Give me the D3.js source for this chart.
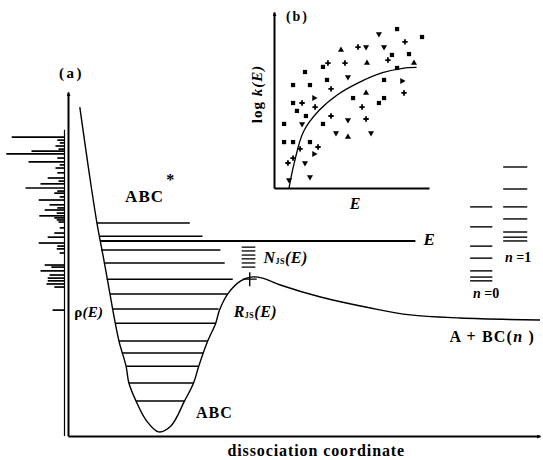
<!DOCTYPE html>
<html>
<head>
<meta charset="utf-8">
<script src="https://cdn.jsdelivr.net/npm/d3@7"></script>
<style>
	body { margin: 0; background: #fff; }
</style>
</head>
<body>
<svg id="chart" width="543" height="460"></svg>
<script>
'use strict';

var FONT = "'Liberation Serif', 'Times New Roman', Times, 'DejaVu Serif', serif";

//Potential energy curve, [dissociation coordinate, energy]
var potential = [
	[0.25,9.56],[0.44,7.73],[0.61,6.22],[0.78,4.97],[0.95,3.66],[1.08,2.76],[1.23,2.03],
	[1.29,1.54],[1.44,1.02],[1.65,0.47],[1.92,0.12],[2.18,0.29],[2.47,1.02],[2.66,1.54],
	[2.77,2.03],[2.96,2.76],[3.13,3.28],[3.21,3.66],[3.40,4.16],[3.66,4.51],[3.87,4.62],
	[4.12,4.59],[4.50,4.39],[5.35,4.04],[6.41,3.72],[7.25,3.52],[8.31,3.43],[10.0,3.37]
];

//Vibrational levels of ABC, [energy, left end, right end]
var levels = [
	[6.19,0.61,2.58],[5.81,0.68,2.85],[5.41,0.70,3.23],[5.03,0.76,3.32],[4.56,0.82,3.49],
	[4.13,0.89,3.38],[3.69,0.95,3.19],[3.28,1.00,3.13],[2.76,1.08,2.96],[2.41,1.14,2.87],
	[2.03,1.23,2.77],[1.54,1.29,2.66],[1.02,1.44,2.47]
];

//Total energy E line, [energy, left end, right end]
var energyLine = [5.67, 0.68, 7.36];

//Transition state levels N_JS(E)
var tsLevels = [5.49, 5.38, 5.26, 5.15, 5.03, 4.91];
var tsSpan = [3.68, 3.97];
var tsPoint = [3.85, 4.56];

//Product levels for n=0 and n=1
var n0Levels = [6.66, 6.08, 5.52, 5.17, 4.80, 4.62, 4.51];
var n0Span = [8.52, 8.99];
var n1Levels = [7.82, 7.18, 6.66, 6.31, 5.93, 5.78, 5.67];
var n1Span = [9.22, 9.73];

//Density of states spectrum rho(E), [energy, intensity]
var spectrum = [
	[8.69,0.88],[8.60,0.12],[8.52,0.08],[8.43,0.15],[8.34,0.10],[8.28,0.55],[8.20,0.97],
	[8.08,0.12],[7.97,0.60],[7.88,0.08],[7.79,0.15],[7.65,0.12],[7.50,0.28],[7.41,0.10],
	[7.33,0.40],[7.21,0.65],[7.12,0.12],[7.06,0.17],[6.95,0.08],[6.86,0.43],[6.72,0.25],
	[6.63,0.12],[6.57,0.33],[6.48,0.13],[6.40,0.42],[6.34,0.17],[6.28,0.13],[6.22,0.10],
	[6.05,0.08],[5.90,0.17],[5.78,0.28],[5.61,0.43],[5.52,0.12],[5.44,0.13],[5.32,0.08],
	[4.97,0.33],[4.91,0.22],[4.80,0.40],[4.68,0.25],[4.59,0.28],[4.51,0.28],[4.42,0.30],
	[4.33,0.17],[3.66,0.20]
];

//Inset (b): log k(E) scatter, [E, log k]
var insetSquares = [
	[7.94,9.03],[9.55,8.58],[7.61,7.56],[8.71,7.61],[3.16,6.88],[7.94,6.82],[2.00,6.59],
	[3.42,6.14],[7.10,6.14],[1.23,5.85],[2.32,5.85],[5.10,5.11],[7.10,5.11],[6.77,4.83],
	[1.23,4.83],[1.48,4.38],[2.06,4.09],[0.65,3.64],[3.16,3.64],[0.65,2.61],[1.23,2.61],
	[2.32,2.61]
];
var insetDown = [
	[6.77,8.75],[7.10,8.01],[5.94,8.01],[4.77,6.31],[4.77,3.86],[1.81,3.64],[4.00,3.13],
	[6.26,3.13],[2.00,1.42],[2.32,0.63],[0.97,0.45]
];
var insetUp = [[4.32,7.84],[6.00,7.10],[9.03,7.10],[5.94,5.40],[4.77,2.90]];
var insetCross = [
	[8.45,8.30],[5.42,8.01],[7.35,7.27],[3.48,7.10],[4.58,7.10],[3.68,5.63],[8.39,5.40],
	[1.81,4.83],[2.65,4.60],[5.68,4.60],[3.68,4.09],[5.94,3.92],[1.68,2.22],[2.84,2.33],
	[1.23,1.70],[0.90,1.42]
];
var insetRight = [[8.26,6.08],[2.58,5.11],[2.58,1.93]];
var insetFit = [
	[0.97,0.0],[1.30,1.40],[1.90,3.20],[2.90,4.40],[4.10,5.30],[5.50,6.00],[7.00,6.55],
	[8.30,6.80],[9.20,6.85]
];

var svg = d3.select('#chart');

//Scales
var x = d3.scaleLinear().domain([0,10]).range([68,540]);
var y = d3.scaleLinear().domain([0,10]).range([436,92]);
var sLen = d3.scaleLinear().domain([0,1]).range([0,60]);
var ix = d3.scaleLinear().domain([0,10]).range([274,429]);
var iy = d3.scaleLinear().domain([0,10]).range([188,12]);

//Arrow head marker
svg.append('defs').append('marker')
	.attr('id','arrow')
	.attr('viewBox','0 -4 8 8')
	.attr('refX',7).attr('refY',0)
	.attr('markerWidth',4).attr('markerHeight',4)
	.attr('markerUnits','userSpaceOnUse')
	.attr('orient','auto')
	.append('path').attr('d','M0,-4L8,0L0,4Z').attr('fill','#000');

function styleAxis(g) {
	g.select('.domain').attr('stroke','#000').attr('stroke-width',2)
		.attr('marker-end','url(#arrow)');
}

/***************************************
 * MAIN PANEL (a)
 ***************************************/

svg.append('g').attr('transform','translate(0,'+y(0)+')')
	.call(d3.axisBottom(x).tickValues([]).tickSizeOuter(0))
	.call(styleAxis);
svg.append('g').attr('transform','translate('+x(0)+',0)')
	.call(d3.axisLeft(y).tickValues([]).tickSizeOuter(0))
	.call(styleAxis);

//Spectrum baseline and lines
var specBase = x(0) - 3.5;
svg.append('line')
	.attr('x1',specBase).attr('x2',specBase)
	.attr('y1',y(8.9)).attr('y2',y(0))
	.attr('stroke','#000').attr('stroke-width',1.2);
svg.append('g').selectAll('line')
	.data(spectrum)
	.enter().append('line')
		.attr('x1',function(d){return specBase - sLen(d[1]);})
		.attr('x2',specBase)
		.attr('y1',function(d){return y(d[0]);})
		.attr('y2',function(d){return y(d[0]);})
		.attr('stroke','#000').attr('stroke-width',1.7);

//Potential curve
var line = d3.line()
	.x(function(d){return x(d[0]);})
	.y(function(d){return y(d[1]);})
	.curve(d3.curveCatmullRom.alpha(0.5));
svg.append('path')
	.datum(potential)
	.attr('d',line)
	.attr('fill','none').attr('stroke','#000').attr('stroke-width',1.4);

//Vibrational levels
svg.append('g').selectAll('line')
	.data(levels)
	.enter().append('line')
		.attr('x1',function(d){return x(d[1]);})
		.attr('x2',function(d){return x(d[2]);})
		.attr('y1',function(d){return y(d[0]);})
		.attr('y2',function(d){return y(d[0]);})
		.attr('stroke','#000').attr('stroke-width',1.5);

//Energy line
svg.append('line')
	.attr('x1',x(energyLine[1])).attr('x2',x(energyLine[2]))
	.attr('y1',y(energyLine[0])).attr('y2',y(energyLine[0]))
	.attr('stroke','#000').attr('stroke-width',2);

//Stacks of short levels
function stack(vals, span, w) {
	svg.append('g').selectAll('line')
		.data(vals)
		.enter().append('line')
			.attr('x1',x(span[0])).attr('x2',x(span[1]))
			.attr('y1',function(d){return y(d);})
			.attr('y2',function(d){return y(d);})
			.attr('stroke','#000').attr('stroke-width',w);
}
stack(tsLevels, tsSpan, 1.3);
stack(n0Levels, n0Span, 1.4);
stack(n1Levels, n1Span, 1.4);

//Transition state cross
svg.append('path')
	.attr('d','M'+(x(tsPoint[0])-7)+','+y(tsPoint[1])+'h14M'+x(tsPoint[0])+','+(y(tsPoint[1])-7)+'v14')
	.attr('stroke','#000').attr('stroke-width',1.4);

//Text helper: parts are {t: text, i: italic, s: size, dy: shift}
function label(px, py, size, parts, anchor, spacing, transform) {
	var t = svg.append('text')
		.attr('x',px).attr('y',py)
		.style('font-family',FONT)
		.style('font-weight','bold')
		.style('font-size',size+'px')
		.style('text-anchor',anchor || 'start')
		.style('letter-spacing',(spacing || 0)+'px');
	if (transform) t.attr('transform',transform);
	parts.forEach(function(p) {
		var ts = t.append('tspan').text(p.t);
		if (p.i) ts.style('font-style','italic');
		if (p.s) ts.style('font-size',p.s+'px');
		if (p.dy) ts.attr('dy',p.dy);
	});
	return t;
}

label(x(-0.19), y(10.41), 15, [{t:'(a)'}], 'start', 2.5);
label(x(1.21), y(6.80), 17, [{t:'ABC'}], 'start', 1);
label(x(2.08), y(7.30), 16, [{t:'*'}]);
label(x(7.53), y(5.55), 17, [{t:'E', i:true}]);
label(x(4.14), y(5.03), 16, [{t:'N', i:true}, {t:'JS', s:8, dy:1}, {t:'(E)', i:true, dy:-1}], 'start', 0.5);
label(x(3.51), y(3.46), 16, [{t:'R', i:true}, {t:'JS', s:8, dy:1}, {t:'(E)', i:true, dy:-1}], 'start', 0.5);
label(x(0.13), y(3.46), 15, [{t:'\u03c1'}, {t:'(E)', i:true}], 'start', 0.3);
label(x(2.71), y(0.52), 16, [{t:'ABC'}], 'start', 1);
label(x(8.08), y(2.73), 16, [{t:'A + BC('}, {t:'n', i:true}, {t:' )'}], 'start', 1.2);
label(x(8.58), y(4.01), 14, [{t:'n', i:true}, {t:' =0'}]);
label(x(9.26), y(5.06), 14, [{t:'n', i:true}, {t:' =1'}]);
label(x(5.26), y(-0.58), 16, [{t:'dissociation coordinate'}], 'middle', 0.9);

/***************************************
 * INSET (b)
 ***************************************/

svg.append('g').attr('transform','translate(0,'+iy(0)+')')
	.call(d3.axisBottom(ix).tickValues([]).tickSizeOuter(0))
	.call(function(g){ g.select('.domain').attr('stroke','#000').attr('stroke-width',2); });
svg.append('g').attr('transform','translate('+ix(0)+',0)')
	.call(d3.axisLeft(iy).tickValues([]).tickSizeOuter(0))
	.call(styleAxis);

var fitLine = d3.line()
	.x(function(d){return ix(d[0]);})
	.y(function(d){return iy(d[1]);})
	.curve(d3.curveCatmullRom.alpha(0.5));
svg.append('path')
	.datum(insetFit)
	.attr('d',fitLine)
	.attr('fill','none').attr('stroke','#000').attr('stroke-width',1.3);

function markers(data, type, size, rot) {
	svg.append('g').selectAll('path')
		.data(data)
		.enter().append('path')
			.attr('d',d3.symbol().type(type).size(size))
			.attr('transform',function(d){
				return 'translate('+ix(d[0])+','+iy(d[1])+') rotate('+rot+')';
			})
			.attr('fill','#000');
}
markers(insetSquares, d3.symbolSquare, 18, 0);
markers(insetDown, d3.symbolTriangle, 16, 180);
markers(insetUp, d3.symbolTriangle, 16, 0);
markers(insetRight, d3.symbolTriangle, 16, 90);
markers(insetCross, d3.symbolCross, 16, 0);

label(ix(0.77), iy(9.49), 14, [{t:'(b)'}], 'start', 2);
label(ix(5.23), iy(-1.19), 16, [{t:'E', i:true}], 'middle');
//rotated axis title, placed at origin then transformed
label(0, 0, 15, [{t:'log '}, {t:'k(E)', i:true}], 'middle', 1,
	'translate('+ix(-0.77)+','+iy(5.34)+') rotate(-90)');
</script>
</body>
</html>
